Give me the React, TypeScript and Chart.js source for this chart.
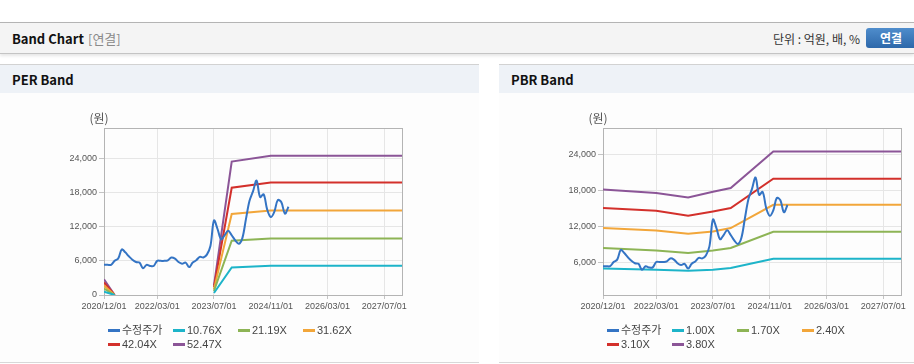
import React, { useEffect, useRef } from 'react';
import { Chart, registerables } from 'chart.js';

Chart.register(...registerables);

// ---------- data ----------
const axisStart = '2020/12';
const axisEnd = '2027/12';
const xTickLabels = ['2020/12/01', '2022/03/01', '2023/07/01', '2024/11/01', '2026/03/01', '2027/07/01'];
const yTickValues = [0, 6000, 12000, 18000, 24000];

const priceLabel = '수정주가';
// monthly adjusted price from 2020/12
const priceValues = [
  5300, 5300, 5300, 6000, 6400, 8000, 7500, 6800, 6200, 5800,
  5700, 4700, 5300, 5100, 5100, 6000, 6000, 6000, 6100, 6600,
  6400, 5800, 5500, 5700, 4900, 5700, 6100, 6700, 6600, 7100,
  8600, 13100, 11600, 9800, 10500, 11300, 10500, 9600, 9000, 10000,
  13300, 16500, 18200, 20100, 17200, 17700, 15000, 13700, 14600, 16700,
  16300, 14300, 15500,
];

const perBandLabels = ['10.76X', '21.19X', '31.62X', '42.04X', '52.47X'];
const perBandDates = ['2020/12', '2021/03', '2021/04', '2023/07', '2023/12', '2024/11', '2027/12'];
const per1076 = [570, 0, null, 350, 4840, 5150, 5150];
const per2119 = [1110, 0, null, 700, 9540, 9950, 9950];
const per3162 = [1660, 0, null, 1030, 14230, 14850, 14850];
const per4204 = [2210, 0, null, 1380, 18850, 19750, 19750];
const per5247 = [2760, 0, null, 1700, 23450, 24480, 24480];

const pbrBandLabels = ['1.00X', '1.70X', '2.40X', '3.10X', '3.80X'];
const pbrBandDates = ['2020/12', '2022/03', '2022/12', '2023/07', '2023/12', '2024/12', '2027/12'];
const pbr100 = [4930, 4720, 4550, 4720, 5000, 6550, 6550];
const pbr170 = [8330, 7930, 7500, 7930, 8330, 11050, 11050];
const pbr240 = [11670, 11270, 10720, 11100, 11670, 15550, 15550];
const pbr310 = [15000, 14550, 13720, 14430, 15000, 19880, 19880];
const pbr380 = [18100, 17500, 16770, 17720, 18330, 24430, 24430];

const seriesColors = ['#3474c4', '#1db4c9', '#8db455', '#f2a63a', '#d3302b', '#8b5597'];

// ---------- helpers ----------
function monthIndex(s: string): number {
  const [y, m] = s.split('/').map(Number);
  const [y0, m0] = axisStart.split('/').map(Number);
  return (y - y0) * 12 + (m - m0);
}

const tickFont = { family: '"Liberation Sans", Arial, sans-serif', size: 9 };

const framePlugin = {
  id: 'frame',
  beforeDatasetsDraw(chart: any) {
    const { ctx, chartArea: a } = chart;
    ctx.save();
    ctx.strokeStyle = '#b4b4b4';
    ctx.lineWidth = 1;
    const l = Math.round(a.left) + 0.5;
    const t = Math.round(a.top) + 0.5;
    ctx.strokeRect(l, t, Math.round(a.right) - Math.round(a.left), Math.round(a.bottom) - Math.round(a.top));
    ctx.fillStyle = '#555';
    ctx.font = '12px "Noto Sans CJK KR", sans-serif';
    ctx.textAlign = 'center';
    ctx.textBaseline = 'middle';
    ctx.fillText('(원)', a.left - 5, a.top - 10);
    ctx.restore();
  },
};

function makeConfig(
  bandLabels: string[],
  bandDates: string[],
  bandValues: (number | null)[][],
  yMin: number,
  yMax: number,
  padRight: number,
) {
  const datasets: any[] = [
    {
      label: priceLabel,
      data: priceValues.map((v, i) => ({ x: i, y: v })),
      borderColor: seriesColors[0],
      borderWidth: 2,
      pointRadius: 0,
      tension: 0.35,
      fill: false,
    },
  ];
  bandValues.forEach((vals, k) => {
    datasets.push({
      label: bandLabels[k],
      data: bandDates.map((d, i) => ({ x: monthIndex(d), y: vals[i] })),
      borderColor: seriesColors[k + 1],
      borderWidth: 2,
      pointRadius: 0,
      tension: 0,
      fill: false,
      spanGaps: false,
    });
  });
  return {
    type: 'line' as const,
    data: { datasets },
    options: {
      animation: false,
      responsive: false,
      maintainAspectRatio: false,
      layout: { padding: { left: 54, right: padRight, top: 35, bottom: 47 } },
      plugins: { legend: { display: false }, tooltip: { enabled: false } },
      scales: {
        x: {
          type: 'linear',
          min: 0,
          max: monthIndex(axisEnd),
          afterBuildTicks: (s: any) => {
            s.ticks = xTickLabels.map((l) => ({ value: monthIndex(l.slice(0, 7)) }));
          },
          afterFit: (s: any) => {
            s.height = 20;
          },
          grid: { color: '#e6e6e6', tickColor: '#c4c4c4', tickLength: 4, drawTicks: true },
          border: { display: false },
          ticks: {
            autoSkip: false,
            maxRotation: 0,
            padding: 2,
            color: '#555',
            font: tickFont,
            callback: (_v: any, i: number) => xTickLabels[i],
          },
        },
        y: {
          type: 'linear',
          min: yMin,
          max: yMax,
          afterBuildTicks: (s: any) => {
            s.ticks = yTickValues.filter((v) => v >= yMin && v <= yMax).map((v) => ({ value: v }));
          },
          afterFit: (s: any) => {
            s.width = 50;
          },
          grid: { color: '#e6e6e6', tickColor: '#c4c4c4', tickLength: 5, drawTicks: true },
          border: { display: false },
          ticks: {
            padding: 2,
            color: '#555',
            font: tickFont,
            callback: (v: any) => Number(v).toLocaleString('en-US'),
          },
        },
      },
    },
    plugins: [framePlugin],
  };
}

function ChartCanvas(props: { config: any; width: number; height: number; left: number; top: number }) {
  const ref = useRef<HTMLCanvasElement | null>(null);
  useEffect(() => {
    if (!ref.current) return;
    const chart = new Chart(ref.current, props.config);
    return () => chart.destroy();
  }, []);
  return (
    <canvas
      ref={ref}
      width={props.width}
      height={props.height}
      style={{ position: 'absolute', left: props.left, top: props.top, width: props.width, height: props.height }}
    />
  );
}

function Legend(props: { labels: string[]; left: number }) {
  const all = [priceLabel, ...props.labels];
  const rows = [all.slice(0, 4), all.slice(4)];
  return (
    <>
      {rows.map((row, r) => (
        <div
          key={r}
          style={{ position: 'absolute', left: props.left, top: 324 + r * 13.5, height: 13, display: 'flex' }}
        >
          {row.map((lab, j) => {
            const idx = r * 4 + j;
            return (
              <div key={lab} style={{ width: 65, display: 'flex', alignItems: 'center', height: 13 }}>
                <span style={{ display: 'inline-block', width: 12, height: 3, background: seriesColors[idx], marginRight: 2 }} />
                <span style={{ fontSize: 11, color: '#444', lineHeight: '13px', whiteSpace: 'nowrap' }}>{lab}</span>
              </div>
            );
          })}
        </div>
      ))}
    </>
  );
}

const uiFont = '"Noto Sans CJK KR", "Noto Sans", sans-serif';

export default function App() {
  const perConfig = makeConfig(perBandLabels, perBandDates, [per1076, per2119, per3162, per4204, per5247], 0, 29350, 77);
  const pbrConfig = makeConfig(pbrBandLabels, pbrBandDates, [pbr100, pbr170, pbr240, pbr310, pbr380], 500, 28350, 13);
  return (
    <div
      style={{
        position: 'absolute',
        left: 0,
        top: 0,
        width: 914,
        height: 364,
        overflow: 'hidden',
        background: '#fff',
        fontFamily: '"Liberation Sans", "Noto Sans CJK KR", sans-serif',
      }}
    >
      {/* top header */}
      <div
        style={{
          position: 'absolute',
          left: 0,
          top: 22,
          width: 914,
          height: 32,
          boxSizing: 'border-box',
          borderTop: '1px solid #b4b4b4',
          borderBottom: '1px solid #c4c4c4',
          background: '#f4f4f4',
          boxShadow: '0 2px 3px rgba(0,0,0,0.10)',
        }}
      >
        <span style={{ position: 'absolute', left: 12, top: 6, fontFamily: uiFont, fontWeight: 700, fontSize: 13, color: '#111' }}>
          Band Chart
        </span>
        <span style={{ position: 'absolute', left: 88, top: 6, fontFamily: uiFont, fontSize: 13, color: '#8a8a8a' }}>[연결]</span>
        <span style={{ position: 'absolute', right: 54, top: 7, fontFamily: uiFont, fontSize: 12, color: '#333' }}>
          단위 : 억원, 배, %
        </span>
        <div
          style={{
            position: 'absolute',
            left: 866,
            top: 5,
            width: 50,
            height: 20,
            borderRadius: 3,
            background: 'linear-gradient(#4f8dcc, #2d68aa)',
            color: '#fff',
            fontFamily: uiFont,
            fontWeight: 700,
            fontSize: 12,
            lineHeight: '20px',
            textAlign: 'center',
          }}
        >
          연결
        </div>
      </div>

      {/* panels */}
      {[
        { left: 0, width: 479, title: 'PER Band' },
        { left: 499, width: 415, title: 'PBR Band' },
      ].map((p) => (
        <div
          key={p.title}
          style={{
            position: 'absolute',
            left: p.left,
            top: 64,
            width: p.width,
            height: 299,
            boxSizing: 'border-box',
            borderTop: '1px solid #d2d2d2',
            borderBottom: '1px solid #d8d8d8',
            background: '#fdfdfd',
          }}
        >
          <div style={{ position: 'absolute', left: 0, top: 0, width: p.width, height: 28, background: '#eef2f7' }}>
            <span style={{ position: 'absolute', left: 12, top: 5, fontFamily: uiFont, fontWeight: 700, fontSize: 13, color: '#111' }}>
              {p.title}
            </span>
          </div>
        </div>
      ))}

      <ChartCanvas config={perConfig} width={479} height={269} left={0} top={93} />
      <ChartCanvas config={pbrConfig} width={415} height={269} left={499} top={93} />
      <Legend labels={perBandLabels} left={108} />
      <Legend labels={pbrBandLabels} left={607} />
    </div>
  );
}
